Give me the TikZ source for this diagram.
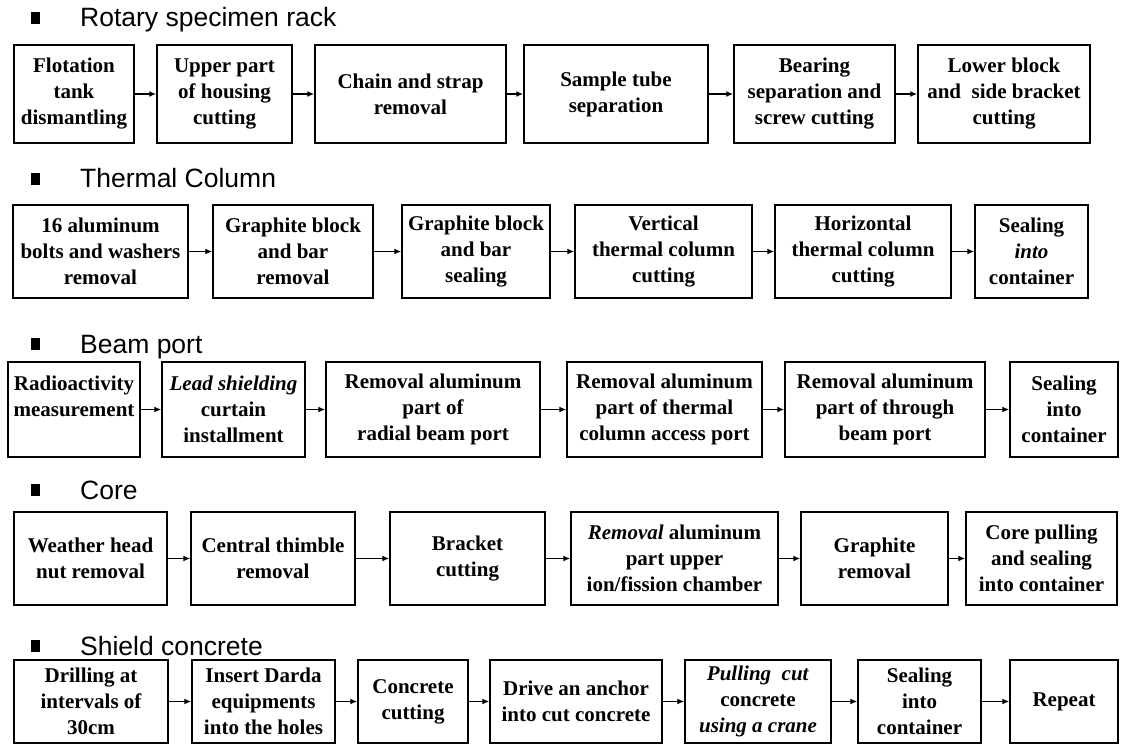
\documentclass[tikz,border=0pt]{standalone}
\usepackage{fontspec}
\setmainfont{Liberation Serif}
\newfontfamily\headfont{Liberation Sans}
\usetikzlibrary{arrows.meta}

\begin{document}
\begin{tikzpicture}[x=1pt,y=-1pt,
        stage/.style={draw,line width=1.5pt,align=center,inner sep=1pt,
            font=\fontsize{21}{26}\selectfont\bfseries},
        head/.style={anchor=base west,inner sep=0pt,
            font=\headfont\fontsize{26.5}{30}\selectfont},
        bul/.style={fill=black,inner sep=0pt,minimum width=9pt,minimum height=12pt},
        go/.style={line width=1.6pt,-{Latex[length=7pt,width=6pt]}}]
    \useasboundingbox (0,0) rectangle (1122,746);

    % rotary specimen rack
    \node[bul] (b1) at (35,18) {};
    \node[head] (h1) at (80,27) {Rotary specimen rack};
    \begin{scope}[every node/.append style={minimum height=98pt}]
        \node[stage,minimum width=120pt] (rot1) at (74,94) {Flotation\\tank\\dismantling};
        \node[stage,minimum width=135pt] (rot2) at (224.5,94) {Upper part\\of housing\\cutting};
        \node[stage,minimum width=191pt] (rot3) at (410.5,94) {Chain and strap\\removal};
        \node[stage,minimum width=184pt] (rot4) at (616,94) {Sample tube\\separation};
        \node[stage,minimum width=161pt] (rot5) at (814.5,94) {Bearing\\separation and\\screw cutting};
        \node[stage,minimum width=172pt] (rot6) at (1004,94) {Lower block\\and~ side bracket\\cutting};
    \end{scope}
    \foreach \i [count=\j from 2] in {1,...,5}
        \draw[go] (rot\i) -- (rot\j);

    % thermal column
    \node[bul] (b2) at (35,179) {};
    \node[head] (h2) at (80,188) {Thermal Column};
    \begin{scope}[every node/.append style={minimum height=93pt}]
        \node[stage,minimum width=175pt] (th1) at (100.5,251.5) {16 aluminum\\bolts and washers\\removal};
        \node[stage,minimum width=160pt] (th2) at (293,251.5) {Graphite block\\and bar\\removal};
        \node[stage,minimum width=148pt] (th3) at (476,251.5) {Graphite block\\and bar\\sealing};
        \node[stage,minimum width=177pt] (th4) at (663.5,251.5) {Vertical\\thermal column\\cutting};
        \node[stage,minimum width=176pt] (th5) at (863,251.5) {Horizontal\\thermal column\\cutting};
        \node[stage,minimum width=113pt] (th6) at (1031.5,251.5) {Sealing\\\textit{into}\\container};
    \end{scope}
    \foreach \i [count=\j from 2] in {1,...,5}
        \draw[go] (th\i) -- (th\j);

    % beam port
    \node[bul] (b3) at (35,344) {};
    \node[head] (h3) at (80,353) {Beam port};
    \begin{scope}[every node/.append style={minimum height=95pt}]
        \node[stage,minimum width=132pt] (bp1) at (74,409.5) {Radioactivity\\measurement\\\mbox{}};
        \node[stage,minimum width=143pt] (bp2) at (233.5,409.5) {\textit{Lead shielding}\\curtain\\installment};
        \node[stage,minimum width=214pt] (bp3) at (433,409.5) {Removal aluminum\\part of\\radial beam port};
        \node[stage,minimum width=195pt] (bp4) at (664.5,409.5) {Removal aluminum\\part of thermal\\column access port};
        \node[stage,minimum width=200pt] (bp5) at (885,409.5) {Removal aluminum\\part of through\\beam port};
        \node[stage,minimum width=108pt] (bp6) at (1064,409.5) {Sealing\\into\\container};
    \end{scope}
    \foreach \i [count=\j from 2] in {1,...,5}
        \draw[go] (bp\i) -- (bp\j);

    % core
    \node[bul] (b4) at (35,490) {};
    \node[head] (h4) at (80,499) {Core};
    \begin{scope}[every node/.append style={minimum height=93pt}]
        \node[stage,minimum width=153pt] (co1) at (90.5,558.5) {Weather head\\nut removal};
        \node[stage,minimum width=164pt] (co2) at (273,558.5) {Central thimble\\removal};
        \node[stage,minimum width=155pt] (co3) at (467.5,558.5) {Bracket\\cutting};
        \node[stage,minimum width=207pt] (co4) at (674.5,558.5) {\textit{Removal} aluminum\\part upper\\ion/fission chamber};
        \node[stage,minimum width=147pt] (co5) at (874.5,558.5) {Graphite\\removal};
        \node[stage,minimum width=151pt] (co6) at (1041.5,558.5) {Core pulling\\and sealing\\into container};
    \end{scope}
    \foreach \i [count=\j from 2] in {1,...,5}
        \draw[go] (co\i) -- (co\j);

    % shield concrete
    \node[bul] (b5) at (35,646) {};
    \node[head] (h5) at (80,655) {Shield concrete};
    \begin{scope}[every node/.append style={minimum height=83pt}]
        \node[stage,minimum width=154pt] (sh1) at (91,701.5) {Drilling at\\intervals of\\30cm};
        \node[stage,minimum width=143pt] (sh2) at (263.5,701.5) {Insert Darda\\equipments\\into the holes};
        \node[stage,minimum width=110pt] (sh3) at (413,701.5) {Concrete\\cutting};
        \node[stage,minimum width=172pt] (sh4) at (576,701.5) {Drive an anchor\\into cut concrete};
        \node[stage,minimum width=146pt] (sh5) at (758,701.5) {\textit{Pulling~ cut}\\concrete\\\textit{using a crane}};
        \node[stage,minimum width=123pt] (sh6) at (919.5,701.5) {Sealing\\into\\container};
        \node[stage,minimum width=108pt] (sh7) at (1064,701.5) {Repeat};
    \end{scope}
    \foreach \i [count=\j from 2] in {1,...,6}
        \draw[go] (sh\i) -- (sh\j);
\end{tikzpicture}
\end{document}
